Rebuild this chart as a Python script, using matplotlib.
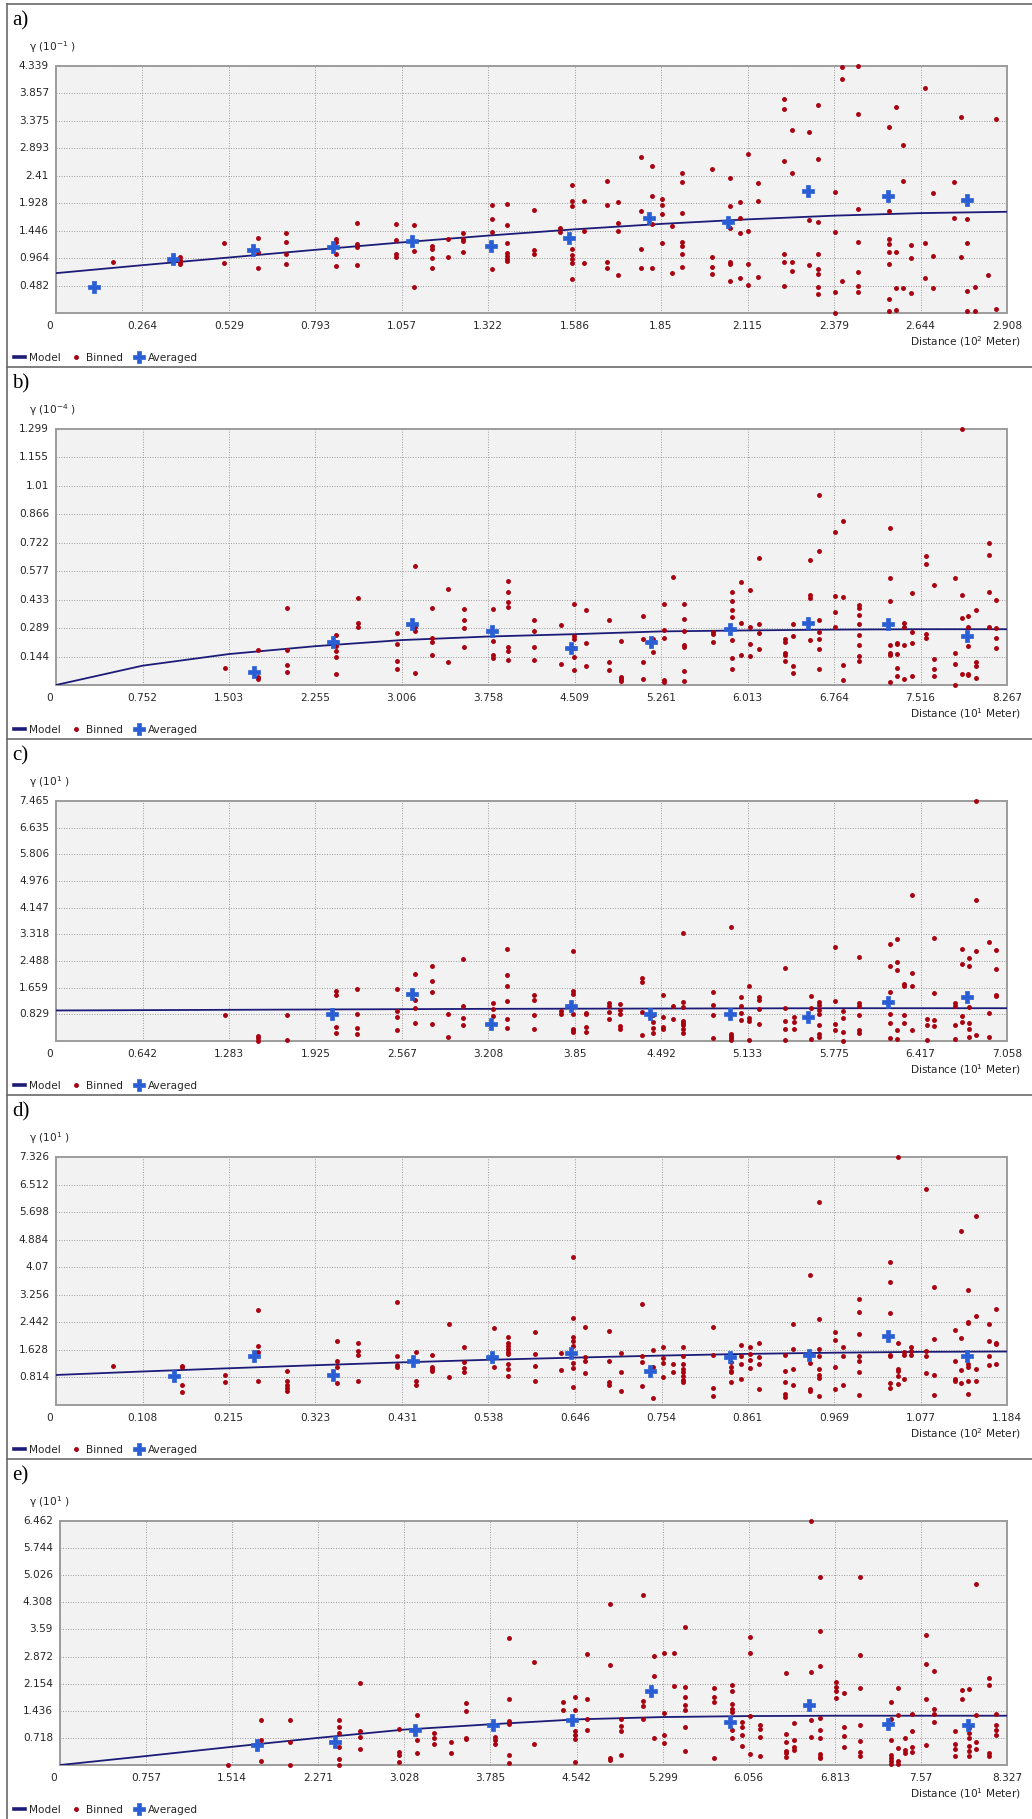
import matplotlib
matplotlib.use('Agg')
import matplotlib.pyplot as plt
from matplotlib.lines import Line2D

W, H = 1032, 1819

# ---------------- Data ----------------
# tick labels as printed on each panel
a_xlab = ['0', '0.264', '0.529', '0.793', '1.057', '1.322', '1.586', '1.85', '2.115', '2.379', '2.644', '2.908']
a_ylab = ['0', '0.482', '0.964', '1.446', '1.928', '2.41', '2.893', '3.375', '3.857', '4.339']
b_xlab = ['0', '0.752', '1.503', '2.255', '3.006', '3.758', '4.509', '5.261', '6.013', '6.764', '7.516', '8.267']
b_ylab = ['0', '0.144', '0.289', '0.433', '0.577', '0.722', '0.866', '1.01', '1.155', '1.299']
c_xlab = ['0', '0.642', '1.283', '1.925', '2.567', '3.208', '3.85', '4.492', '5.133', '5.775', '6.417', '7.058']
c_ylab = ['0', '0.829', '1.659', '2.488', '3.318', '4.147', '4.976', '5.806', '6.635', '7.465']
d_xlab = ['0', '0.108', '0.215', '0.323', '0.431', '0.538', '0.646', '0.754', '0.861', '0.969', '1.077', '1.184']
d_ylab = ['0', '0.814', '1.628', '2.442', '3.256', '4.07', '4.884', '5.698', '6.512', '7.326']
e_xlab = ['0', '0.757', '1.514', '2.271', '3.028', '3.785', '4.542', '5.299', '6.056', '6.813', '7.57', '8.327']
e_ylab = ['0', '0.718', '1.436', '2.154', '2.872', '3.59', '4.308', '5.026', '5.744', '6.462']

# model curve read at each x tick
a_model = [0.70, 0.84, 0.975, 1.11, 1.24, 1.36, 1.47, 1.565, 1.645, 1.71, 1.755, 1.778]
b_model = [0.0, 0.098, 0.157, 0.197, 0.228, 0.246, 0.258, 0.272, 0.277, 0.281, 0.283, 0.283]
c_model = [0.95, 0.96, 0.97, 0.98, 0.99, 1.0, 1.005, 1.01, 1.015, 1.02, 1.02, 1.02]
d_model = [0.887, 0.99, 1.085, 1.175, 1.26, 1.335, 1.40, 1.46, 1.51, 1.545, 1.57, 1.58]
e_model = [0.0, 0.237, 0.482, 0.719, 0.938, 1.078, 1.208, 1.27, 1.296, 1.305, 1.305, 1.305]

# averaged points
a_avg_x = [0.117, 0.359, 0.601, 0.847, 1.089, 1.331, 1.569, 1.814, 2.056, 2.299, 2.543, 2.786]
a_avg_y = [0.453, 0.941, 1.115, 1.161, 1.26, 1.179, 1.324, 1.667, 1.591, 2.135, 2.047, 1.988]
b_avg_x = [1.719, 2.404, 3.094, 3.788, 4.477, 5.168, 5.856, 6.541, 7.232, 7.917]
b_avg_y = [0.066, 0.218, 0.307, 0.276, 0.188, 0.218, 0.284, 0.316, 0.310, 0.249]
c_avg_x = [2.050, 2.643, 3.231, 3.820, 4.412, 5.000, 5.584, 6.176, 6.763]
c_avg_y = [0.849, 1.462, 0.542, 1.103, 0.848, 0.827, 0.745, 1.205, 1.379]
d_avg_x = [0.1475, 0.2462, 0.3448, 0.4439, 0.5434, 0.641, 0.740, 0.839, 0.937, 1.036, 1.134]
d_avg_y = [0.848, 1.459, 0.897, 1.311, 1.410, 1.522, 1.011, 1.404, 1.483, 2.043, 1.434]
e_avg_x = [1.729, 2.421, 3.118, 3.810, 4.506, 5.198, 5.893, 6.590, 7.282, 7.980]
e_avg_y = [0.526, 0.596, 0.938, 1.052, 1.182, 1.953, 1.138, 1.594, 1.077, 1.051]

# binned points, one (x, [y, ...]) per column of dots
a_bins = [
    (0.174, [0.888]), (0.380, [0.976, 0.929, 0.859, 0.900]), (0.514, [1.231, 0.883]),
    (0.617, [1.324, 1.063, 0.796]), (0.704, [1.405, 1.243, 1.034, 0.859]),
    (0.855, [1.307, 1.249, 1.045, 0.825]), (0.919, [1.585, 1.219, 1.161, 0.842]),
    (1.040, [1.556, 1.278, 1.045, 0.987]), (1.095, [1.539, 1.092, 0.453]),
    (1.149, [1.173, 1.132, 0.958, 0.796]), (1.198, [1.307, 0.976]),
    (1.246, [1.405, 1.307, 1.266, 1.074]), (1.334, [1.905, 1.655, 1.423, 0.767]),
    (1.379, [1.916, 1.539, 1.231, 1.057, 0.999, 0.947, 0.912]), (1.461, [1.812, 1.115, 1.028]),
    (1.540, [1.492, 1.423]), (1.579, [2.253, 1.963, 1.887, 1.132, 1.016, 0.941, 0.883, 0.592]),
    (1.615, [1.963, 1.440, 0.883]), (1.685, [2.311, 1.905, 0.900, 0.796]),
    (1.720, [1.945, 1.585, 1.440, 0.668]), (1.789, [2.749, 1.789, 1.123, 0.789]),
    (1.821, [2.585, 2.058, 1.567, 0.789]), (1.853, [2.006, 1.889, 1.737, 1.222]),
    (1.883, [1.520, 0.702]), (1.915, [2.456, 2.310, 1.754, 1.240, 1.170, 1.035, 0.807]),
    (2.006, [2.526, 0.982, 0.801, 0.678]), (2.062, [2.374, 1.871, 1.491, 0.889, 0.866, 0.567]),
    (2.091, [1.942, 1.673, 1.404, 0.614]), (2.117, [2.795, 1.439, 0.866, 0.485]),
    (2.147, [2.292, 1.965, 0.632]), (2.226, [3.766, 3.585, 2.678, 1.035, 0.889, 0.468]),
    (2.252, [3.216, 2.462, 0.895, 0.731]), (2.304, [3.181, 1.626, 0.848]),
    (2.331, [3.649, 2.708, 1.591, 1.035, 0.772, 0.678, 0.456, 0.327]),
    (2.381, [2.123, 1.421, 0.363, 0.0]), (2.404, [4.328, 4.117, 0.567]),
    (2.453, [4.339, 3.497, 1.825, 1.246, 0.713, 0.468, 0.363]),
    (2.547, [3.263, 1.784, 1.304, 1.216, 1.070, 0.866, 0.246, 0.029]),
    (2.570, [3.626, 1.070, 0.433, 0.047]), (2.591, [2.959, 2.322, 0.433]),
    (2.614, [1.199, 0.971, 0.351]), (2.658, [3.947, 1.234, 0.614]),
    (2.682, [2.105, 1.006, 0.433]), (2.747, [2.310, 1.667]), (2.766, [3.450, 0.982]),
    (2.787, [1.649, 1.234, 0.380, 0.029]), (2.810, [0.450, 0.029]), (2.851, [0.667]),
    (2.874, [3.404, 0.070]),
]
b_bins = [
    (1.465, [0.087]), (1.755, [0.180, 0.040, 0.028]), (2.009, [0.392, 0.180, 0.101, 0.066]),
    (2.437, [0.253, 0.220, 0.197, 0.174, 0.143, 0.056]), (2.622, [0.441, 0.316, 0.293]),
    (2.963, [0.263, 0.206, 0.122, 0.082]), (3.121, [0.603, 0.293, 0.276, 0.063]),
    (3.271, [0.392, 0.237, 0.218, 0.152]), (3.408, [0.488, 0.119]),
    (3.543, [0.384, 0.328, 0.288, 0.192]), (3.803, [0.384, 0.223, 0.150, 0.136]),
    (3.925, [0.528, 0.474, 0.419, 0.398, 0.192, 0.171, 0.127]),
    (4.156, [0.328, 0.272, 0.192, 0.127]), (4.394, [0.305, 0.105]),
    (4.503, [0.412, 0.249, 0.232, 0.188, 0.140, 0.075]), (4.609, [0.380, 0.211, 0.098]),
    (4.806, [0.328, 0.115, 0.075]), (4.909, [0.223, 0.040, 0.028, 0.019]),
    (5.100, [0.349, 0.232, 0.115, 0.031]), (5.188, [0.232, 0.167]),
    (5.282, [0.412, 0.279, 0.241, 0.023, 0.014]), (5.365, [0.549]),
    (5.456, [0.412, 0.337, 0.272, 0.202, 0.194, 0.072, 0.019]), (5.712, [0.267, 0.258, 0.220]),
    (5.873, [0.473, 0.427, 0.380, 0.345, 0.227, 0.136, 0.080]), (5.953, [0.523, 0.316, 0.150]),
    (6.032, [0.481, 0.293, 0.206, 0.145]), (6.109, [0.642, 0.307, 0.263, 0.185]),
    (6.335, [0.232, 0.220, 0.162, 0.150, 0.122]), (6.409, [0.310, 0.249, 0.098, 0.063]),
    (6.556, [0.633, 0.455, 0.441, 0.227]), (6.632, [0.964, 0.682, 0.328, 0.267, 0.235, 0.183, 0.080]),
    (6.773, [0.778, 0.453, 0.368, 0.296]), (6.841, [0.834, 0.445, 0.101, 0.023]),
    (6.982, [0.406, 0.389, 0.354, 0.310, 0.253, 0.202, 0.145, 0.122]),
    (7.247, [0.799, 0.542, 0.424, 0.202, 0.162, 0.150, 0.017]),
    (7.314, [0.215, 0.206, 0.157, 0.084, 0.045]), (7.373, [0.314, 0.296, 0.202, 0.028]),
    (7.438, [0.467, 0.267, 0.211, 0.045]), (7.564, [0.654, 0.612, 0.258, 0.241]),
    (7.629, [0.508, 0.133, 0.080, 0.045]), (7.811, [0.542, 0.162, 0.106, 0.0]),
    (7.873, [1.299, 0.455, 0.342, 0.054]), (7.929, [0.349, 0.296, 0.197, 0.058, 0.052]),
    (7.996, [0.380, 0.119, 0.096, 0.037]), (8.108, [0.720, 0.659, 0.473, 0.293]),
    (8.173, [0.433, 0.288, 0.241, 0.188]),
]
c_bins = [
    (1.252, [0.818]), (1.500, [0.164, 0.082, 0.010]), (1.712, [0.818, 0.031]),
    (2.081, [1.565, 1.442, 0.440, 0.235]), (2.236, [1.616, 0.849, 0.409, 0.205]),
    (2.528, [1.616, 0.931, 0.747, 0.337]), (2.663, [2.096, 1.289, 1.033, 0.573]),
    (2.791, [2.332, 1.871, 1.514, 0.542]), (2.906, [0.849, 0.133]),
    (3.024, [2.557, 1.084, 0.726, 0.491]), (3.246, [1.176, 0.982, 0.777]),
    (3.348, [2.874, 2.055, 1.698, 1.258, 0.675, 0.419]), (3.545, [1.432, 1.289, 0.818, 0.368]),
    (3.749, [0.919, 0.827]), (3.840, [2.788, 1.562, 1.460, 0.848, 0.388, 0.337, 0.266]),
    (3.933, [0.878, 0.827, 0.439, 0.286]), (4.105, [1.174, 1.082, 0.899, 0.694]),
    (4.185, [1.154, 0.950, 0.848, 0.460, 0.388]), (4.351, [1.971, 1.848, 0.899, 0.184]),
    (4.430, [0.817, 0.592, 0.408, 0.235]), (4.505, [1.440, 0.745, 0.439, 0.368]),
    (4.576, [1.103, 0.694]), (4.656, [3.370, 1.225, 1.072, 0.623, 0.562, 0.490, 0.368, 0.235]),
    (4.878, [1.511, 1.123, 0.797, 0.082]), (5.012, [3.533, 0.214, 0.163, 0.082, 0.031]),
    (5.082, [1.379, 1.103, 0.878, 0.664]), (5.143, [1.716, 0.715, 0.623, 0.031]),
    (5.218, [1.358, 1.287, 1.001, 0.541]), (5.410, [2.267, 1.021, 0.633, 0.368, 0.031]),
    (5.475, [0.745, 0.592, 0.388]), (5.601, [1.409, 1.031, 0.061]),
    (5.662, [1.205, 1.123, 0.950, 0.848, 0.511, 0.204, 0.133]), (5.785, [2.910, 1.256, 0.521, 0.337]),
    (5.843, [0.919, 0.715, 0.266, 0.0]), (5.962, [2.604, 1.185, 1.082, 0.817, 0.337, 0.255]),
    (6.189, [3.013, 2.328, 1.532, 0.827, 0.572, 0.082]), (6.244, [3.166, 2.461, 2.206, 0.357, 0.051]),
    (6.297, [1.767, 1.716, 0.797, 0.572]), (6.352, [4.544, 2.124, 1.716, 0.337]),
    (6.461, [0.694, 0.490, 0.031]), (6.514, [3.217, 1.491, 0.664, 0.460]),
    (6.670, [1.185, 1.103, 0.511, 0.061]), (6.723, [2.870, 2.410, 0.776, 0.592]),
    (6.773, [2.584, 2.328, 1.072, 0.572, 0.368, 0.112]), (6.826, [7.465, 4.371, 2.788, 0.184]),
    (6.924, [3.074, 0.878, 0.133]), (6.977, [2.839, 2.247, 1.440, 1.389]),
]
d_bins = [
    (0.0708, [1.163]), (0.1566, [1.163, 1.114, 0.592, 0.394]), (0.2102, [0.897, 0.670]),
    (0.2518, [2.820, 1.755, 1.558, 0.720]), (0.2882, [1.016, 0.720, 0.592, 0.493, 0.404]),
    (0.3496, [1.883, 1.311, 1.134, 0.651]), (0.3761, [1.834, 1.607, 1.479, 0.720]),
    (0.4250, [3.037, 1.440, 1.183, 1.114]), (0.4478, [1.578, 0.720, 0.592]),
    (0.4684, [1.489, 1.134, 1.065, 1.016]), (0.4889, [2.396, 0.838]),
    (0.5082, [1.726, 1.262, 1.094, 0.966]), (0.5456, [2.278, 1.134]),
    (0.5632, [2.021, 1.824, 1.735, 1.656, 1.578, 1.509, 1.213, 1.065, 0.848]),
    (0.5962, [2.149, 1.509, 1.163, 0.720]), (0.629, [1.522, 1.031]),
    (0.644, [4.380, 2.583, 2.013, 1.895, 1.748, 1.237, 1.090, 0.520]),
    (0.659, [2.308, 1.404, 1.286, 0.943]), (0.688, [2.190, 1.286, 0.687, 0.589]),
    (0.703, [1.532, 0.982, 0.422]), (0.730, [2.995, 1.434, 1.257, 0.570]),
    (0.743, [1.620, 1.110, 0.206]), (0.756, [1.719, 1.375, 1.228, 0.815]),
    (0.768, [1.208, 0.962]), (0.781, [1.719, 1.434, 1.208, 1.061, 0.962, 0.864, 0.737, 0.668]),
    (0.818, [2.318, 1.483, 0.501, 0.275]), (0.841, [1.257, 1.110, 1.011, 0.962, 0.687]),
    (0.853, [1.768, 1.453, 1.208, 0.766]), (0.864, [1.728, 1.502, 1.326, 1.080]),
    (0.875, [1.827, 1.404, 1.208, 0.471]), (0.907, [1.473, 1.011, 0.668, 0.324, 0.226]),
    (0.918, [2.386, 1.650, 1.061, 0.589]), (0.939, [3.840, 1.237, 0.471, 0.422]),
    (0.950, [5.990, 2.553, 1.650, 1.434, 1.061, 0.884, 0.786, 0.275]),
    (0.970, [2.160, 1.915, 1.110, 0.471]), (0.980, [1.699, 1.434, 0.589]),
    (1.000, [3.123, 2.750, 2.092, 1.434, 1.306, 0.982, 0.304]),
    (1.038, [4.232, 3.633, 2.730, 1.473, 1.434, 0.638, 0.491]),
    (1.048, [7.316, 1.846, 1.061, 1.011, 0.845, 0.619]), (1.056, [1.552, 1.483, 0.766]),
    (1.065, [1.699, 1.601, 1.483]), (1.083, [6.383, 1.601, 1.453, 0.933]),
    (1.093, [3.486, 1.944, 0.884, 0.304]), (1.119, [2.210, 1.306, 0.766, 0.697]),
    (1.127, [5.136, 1.993, 1.031, 0.638]), (1.135, [3.398, 2.455, 2.416, 1.208, 1.110, 0.697, 0.324]),
    (1.145, [5.578, 2.632, 1.061, 0.717]), (1.161, [2.406, 1.876, 1.453, 1.178]),
    (1.170, [2.828, 1.846, 1.797, 1.198]),
]
e_bins = [
    (1.479, [0.0]), (1.771, [1.201, 0.658, 0.114]), (2.021, [1.201, 0.596, 0.0]),
    (2.451, [1.184, 1.008, 0.850, 0.465, 0.158, 0.0]), (2.637, [2.166, 0.903, 0.745, 0.412]),
    (2.977, [0.947, 0.351, 0.263, 0.088]), (3.139, [1.315, 0.675, 0.307]),
    (3.290, [0.859, 0.728, 0.544]), (3.434, [0.614, 0.307]),
    (3.569, [1.648, 1.429, 0.719, 0.684]), (3.825, [0.745, 0.658, 0.552]),
    (3.951, [3.358, 1.736, 1.166, 1.096, 0.263, 0.061]), (4.171, [2.718, 0.544]),
    (4.420, [1.681, 1.445]), (4.527, [1.795, 1.445, 0.902, 0.806, 0.700, 0.088]),
    (4.634, [2.933, 1.751, 1.226, 0.937]), (4.839, [4.273, 2.653, 0.193, 0.131]),
    (4.937, [1.226, 1.024, 0.902, 0.263]), (5.130, [4.492, 1.690, 1.559, 1.226]),
    (5.222, [2.889, 2.364, 0.727]), (5.314, [2.977, 1.383, 0.788, 0.587]),
    (5.403, [2.977, 2.084]), (5.492, [3.651, 2.058, 1.813, 1.594, 1.462, 1.007, 0.368]),
    (5.753, [2.031, 1.813, 1.664, 0.193]), (5.910, [2.128, 1.953, 1.620, 1.489, 1.401, 0.919, 0.727]),
    (5.997, [1.138, 1.007, 0.806, 0.508]), (6.068, [3.397, 2.977, 1.287, 0.289]),
    (6.154, [1.051, 0.963, 0.744, 0.236]), (6.380, [2.434, 0.832, 0.613, 0.377, 0.306, 0.219]),
    (6.451, [1.112, 0.657, 0.464, 0.394]), (6.605, [6.462, 2.452, 1.200, 0.744]),
    (6.682, [4.973, 3.546, 2.609, 1.252, 0.937, 0.718, 0.289, 0.219, 0.175]),
    (6.822, [2.189, 2.058, 1.970, 1.769]), (6.890, [1.900, 1.007, 0.771, 0.482]),
    (7.033, [4.973, 2.907, 2.031, 1.051, 0.630, 0.350, 0.236]),
    (7.303, [1.664, 1.208, 0.674, 0.263, 0.175, 0.105, 0.026]),
    (7.365, [2.031, 1.313, 0.438, 0.114, 0.026]), (7.430, [0.727, 0.394, 0.306]),
    (7.496, [1.340, 0.893, 0.482, 0.350]), (7.617, [3.432, 2.688, 1.751, 0.525]),
    (7.688, [2.478, 1.489, 1.340, 1.138]), (7.869, [0.893, 0.569, 0.420, 0.236]),
    (7.929, [1.988, 1.751]), (7.989, [2.014, 0.989, 0.858, 0.718, 0.508, 0.368, 0.236]),
    (8.054, [4.798, 1.313, 0.613, 0.412]), (8.173, [2.303, 2.128, 0.306, 0.236]),
    (8.232, [1.340, 1.068, 0.937, 0.806]),
]

# unit exponents shown in the axis titles
y_exp = ['-1', '-4', '1', '1', '1']
x_exp = ['2', '1', '1', '2', '1']

# ---------------- Style ----------------
navy = '#1c1c78'
red = '#a8000e'
blue = '#2a5ed4'
grid_c = '#9a9a9a'
face = '#f2f2f2'
txt = '#262626'
fs = 7.6

panel_tops = [4, 367, 739, 1095, 1459]
panel_ends = [367, 739, 1095, 1459, 1819]

fig = plt.figure(figsize=(W / 100, H / 100), dpi=100)


def fx(px):
    return px / W


def fy(py):
    return 1 - py / H


def expand(cols):
    xs, ys = [], []
    for x, yl in cols:
        for y in yl:
            xs.append(x)
            ys.append(y)
    return xs, ys


panels = [
    ('a)', a_xlab, a_ylab, a_model, a_avg_x, a_avg_y, a_bins),
    ('b)', b_xlab, b_ylab, b_model, b_avg_x, b_avg_y, b_bins),
    ('c)', c_xlab, c_ylab, c_model, c_avg_x, c_avg_y, c_bins),
    ('d)', d_xlab, d_ylab, d_model, d_avg_x, d_avg_y, d_bins),
    ('e)', e_xlab, e_ylab, e_model, e_avg_x, e_avg_y, e_bins),
]

for i, (letter, xlab, ylab, model, avx, avy, bins) in enumerate(panels):
    top = panel_tops[i]
    end = panel_ends[i]
    ax_top = top + 62
    ax_bot = end - 54
    left = 60 if i == 4 else 56
    right = 1007
    ax = fig.add_axes([fx(left), fy(ax_bot), fx(right - left), (ax_bot - ax_top) / H])

    xt = [float(s) for s in xlab]
    yt = [float(s) for s in ylab]
    ax.set_facecolor(face)
    ax.set_xlim(0, xt[-1])
    ax.set_ylim(0, yt[-1])
    ax.set_xticks(xt)
    ax.set_yticks(yt)
    ax.tick_params(length=0, labelbottom=False, labelleft=False)
    ax.grid(True, color=grid_c, linestyle=(0, (1, 1.6)), linewidth=0.7)
    ax.set_axisbelow(True)
    for sp in ax.spines.values():
        sp.set_color('#9c9c9c')
        sp.set_linewidth(1.4)

    # tick labels
    for v, s in zip(xt, xlab):
        ax.annotate(s, xy=(v, 0), xycoords=('data', 'axes fraction'),
                    xytext=(-6 if v == 0 else 0, -13), textcoords='offset pixels',
                    ha='center', va='center', fontsize=fs, color=txt)
    for v, s in zip(yt[1:], ylab[1:]):
        ax.annotate(s, xy=(0, v), xycoords=('axes fraction', 'data'),
                    xytext=(-7, 0), textcoords='offset pixels',
                    ha='right', va='center', fontsize=fs, color=txt)

    # marks
    ln, = ax.plot(xt, model, color=navy, lw=1.3, zorder=3)
    bx, by = expand(bins)
    dots, = ax.plot(bx, by, 'o', ls='none', ms=2.5, color=red, mec=red, zorder=4, clip_on=False)
    crs, = ax.plot(avx, avy, 'P', ls='none', ms=9, color=blue, mec=blue, mew=0.5, zorder=5, clip_on=False)

    # labels
    fig.text(fx(12), fy(top + 17), letter, family='Liberation Serif', fontsize=15,
             va='center', ha='left', color='black')
    fig.text(fx(29), fy(top + 43), 'γ (10$^{%s}$ )' % y_exp[i], fontsize=fs,
             va='center', ha='left', color=txt)
    fig.text(fx(1021), fy(ax_bot + 29), 'Distance (10$^{%s}$ Meter)' % x_exp[i], fontsize=fs,
             va='center', ha='right', color=txt)

    model_handle = Line2D([], [], color=navy, lw=2.6)
    fig.legend([model_handle, dots, crs], ['Model', 'Binned', 'Averaged'],
               loc='center left', bbox_to_anchor=(fx(14), fy(ax_bot + 45)), ncol=3,
               frameon=False, fontsize=fs, handlelength=1.0, handletextpad=0.4,
               columnspacing=1.0, borderpad=0, borderaxespad=0, labelcolor=txt)

# panel frame lines
frame_c = '#6a6a6a'
fig.add_artist(Line2D([fx(7), fx(7)], [fy(4), 0], color=frame_c, lw=1.2))
for yy in panel_tops:
    fig.add_artist(Line2D([fx(7), 1], [fy(yy), fy(yy)], color=frame_c, lw=1.2))

fig.savefig('out.png', dpi=100, facecolor='white')
